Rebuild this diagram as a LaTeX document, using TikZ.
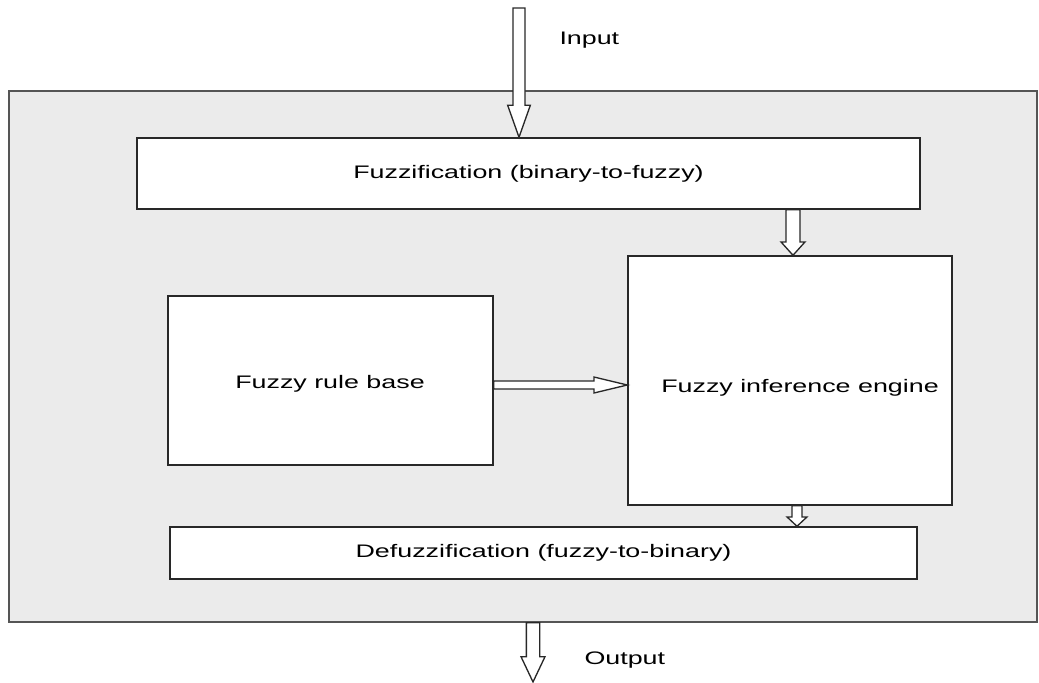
\documentclass[tikz,border=0pt]{standalone}
\usepackage{fontspec}
\newfontfamily\diagfont{Liberation Sans}[FakeStretch=1.48]
\usetikzlibrary{calc}

\tikzset{every picture/.style={line width=0.75pt}}
\tikzset{
  blockbox/.style={draw={rgb,255:red,40;green,40;blue,40}, line width=1.1pt, fill=white, inner sep=0pt, font=\diagfont\fontsize{13.6}{16}\selectfont},
  lbl/.style={font=\diagfont\fontsize{13.6}{16}\selectfont, inner sep=0pt},
  hollow/.style n args={3}{draw={rgb,255:red,40;green,40;blue,40}, line width=1pt, fill=white, line join=miter,
    to path={($(\tikztostart)!#1!90:(\tikztotarget)$)
      -- ($(\tikztotarget)!#3!(\tikztostart)!#1!-90:(\tikztostart)$)
      -- ($(\tikztotarget)!#3!(\tikztostart)!#2!-90:(\tikztostart)$)
      -- (\tikztotarget)
      -- ($(\tikztotarget)!#3!(\tikztostart)!#2!90:(\tikztostart)$)
      -- ($(\tikztotarget)!#3!(\tikztostart)!#1!90:(\tikztostart)$)
      -- ($(\tikztostart)!#1!-90:(\tikztotarget)$) -- cycle}}
}

\begin{document}
\begin{tikzpicture}[x=0.75pt,y=0.75pt,yscale=-1,xscale=1]
	\useasboundingbox (0,0) rectangle (1039,682);

	%Outer frame
	\draw [draw={rgb, 255:red, 85; green, 85; blue, 85 }, fill={rgb, 255:red, 235; green, 235; blue, 235 }, line width=1.5pt] (9,91) rectangle (1037,622);

	%Blocks
	\node [blockbox, minimum width=783*0.75pt, minimum height=71*0.75pt] (fuzz) at (528.5,173.5) {Fuzzification (binary-to-fuzzy)};
	\node [blockbox, minimum width=324*0.75pt, minimum height=249*0.75pt] (engine) at (790,380.5) {};
	\node [lbl] (enginetxt) at (800,388) {Fuzzy inference engine};
	\node [blockbox, minimum width=325*0.75pt, minimum height=169*0.75pt] (rules) at (330.5,380.5) {};
	\node [lbl] (rulestxt) at (330,384) {Fuzzy rule base};
	\node [blockbox, minimum width=747*0.75pt, minimum height=52*0.75pt] (defuzz) at (543.5,553) {Defuzzification (fuzzy-to-binary)};

	%Labels
	\node [lbl, anchor=west] (inlbl) at (559,40) {Input};
	\node [lbl, anchor=west] (outlbl) at (584,660) {Output};

	%Connectors
	\coordinate (in) at (519,8);
	\coordinate (out) at (533,682);
	\draw [hollow={4.5pt}{8.5pt}{24pt}] (in) to (in |- fuzz.north);
	\draw [hollow={5.25pt}{9pt}{10pt}] (fuzz.south -| 793,0) to (engine.north -| 793,0);
	\draw [hollow={3pt}{6pt}{25pt}] (rules.east |- 0,385) to (engine.west |- 0,385);
	\draw [hollow={3.75pt}{7.5pt}{7pt}] (engine.south -| 797,0) to (defuzz.north -| 797,0);
	\draw [hollow={5pt}{9pt}{19pt}] (defuzz.south -| out) ++(0,43) to (out);

\end{tikzpicture}
\end{document}
